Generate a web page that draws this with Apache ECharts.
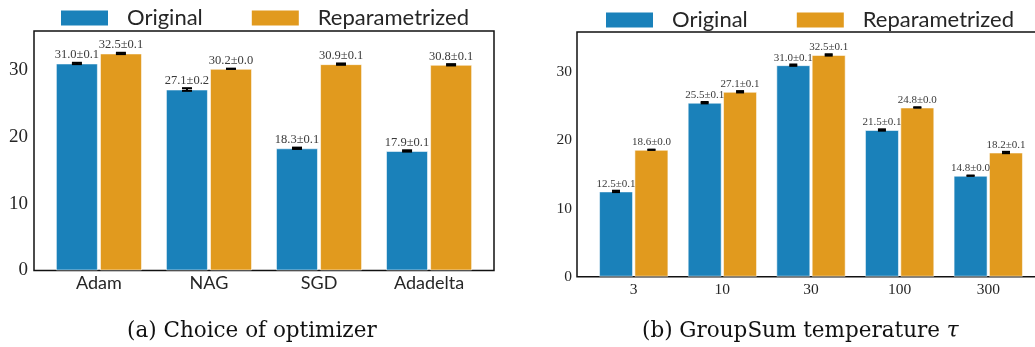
<!DOCTYPE html>
<html>
<head>
<meta charset="utf-8">
<script src="https://cdn.jsdelivr.net/npm/echarts@6/dist/echarts.min.js"></script>
<style>
  html, body { margin: 0; padding: 0; background: #fff; }
  #chart { width: 1035px; height: 347px; }
</style>
</head>
<body>
<div id="chart"></div>
<script>
// Panel (a): accuracy per optimizer
const optimizers = ['Adam', 'NAG', 'SGD', 'Adadelta'];
const optOriginal = [31.0, 27.1, 18.3, 17.9];
const optOriginalErr = [0.1, 0.2, 0.1, 0.1];
const optReparam = [32.5, 30.2, 30.9, 30.8];
const optReparamErr = [0.1, 0.0, 0.1, 0.1];

// Panel (b): accuracy per GroupSum temperature
const temperatures = ['3', '10', '30', '100', '300'];
const tempOriginal = [12.5, 25.5, 31.0, 21.5, 14.8];
const tempOriginalErr = [0.1, 0.1, 0.1, 0.1, 0.0];
const tempReparam = [18.6, 27.1, 32.5, 24.8, 18.2];
const tempReparamErr = [0.0, 0.1, 0.1, 0.0, 0.1];

const yTicks = [0, 10, 20, 30];

const BLUE = '#1a81ba';
const ORANGE = '#e19a1e';
const SERIF = '"Liberation Serif", "Times New Roman", serif';
const SANS = 'Lato, "Noto Sans", sans-serif';

const chart = echarts.init(document.getElementById('chart'));

function pairs(vals, errs) {
  return vals.map((v, i) => [i, v, errs[i]]);
}

function barSeries(name, vals, errs, color, axis, barWidth, labelSize) {
  return {
    name: name,
    type: 'bar',
    xAxisIndex: axis, yAxisIndex: axis,
    data: pairs(vals, errs),
    encode: { x: 0, y: 1 },
    barWidth: barWidth,
    barGap: axis === 0 ? '5%' : '4%',
    itemStyle: { color: color, borderColor: 'rgba(255,255,255,0.55)', borderWidth: 1 },
    label: {
      show: true, position: 'top', distance: 2,
      fontFamily: SERIF, fontSize: labelSize, color: '#3a3a3a',
      formatter: p => p.value[1].toFixed(1) + '±' + p.value[2].toFixed(1)
    },
    emphasis: { disabled: true },
    z: 2
  };
}

function errSeries(vals, errs, axis, offset, capHalf) {
  return {
    type: 'custom',
    xAxisIndex: axis, yAxisIndex: axis,
    data: pairs(vals, errs),
    encode: { x: 0, y: 1 },
    silent: true,
    z: 5,
    renderItem: (params, api) => {
      const x = api.value(0), v = api.value(1), e = api.value(2);
      const hi = api.coord([x, v + e]);
      const lo = api.coord([x, v - e]);
      const cx = hi[0] + offset;
      const st = { stroke: '#000', lineWidth: 2 };
      return {
        type: 'group',
        children: [
          { type: 'line', shape: { x1: cx, y1: hi[1], x2: cx, y2: lo[1] }, style: st },
          { type: 'line', shape: { x1: cx - capHalf, y1: hi[1], x2: cx + capHalf, y2: hi[1] }, style: st },
          { type: 'line', shape: { x1: cx - capHalf, y1: lo[1], x2: cx + capHalf, y2: lo[1] }, style: st }
        ]
      };
    }
  };
}

function catAxis(grid, names, min, max, font, size, margin) {
  return {
    type: 'value', gridIndex: grid, min: min, max: max,
    axisLine: { show: false }, axisTick: { show: false }, splitLine: { show: false },
    axisLabel: {
      customValues: names.map((_, i) => i),
      formatter: v => names[Math.round(v)],
      fontFamily: font, fontSize: size, color: '#262626', margin: margin
    }
  };
}

function valAxis(grid, size, margin) {
  return {
    type: 'value', gridIndex: grid, min: 0, max: 35.86,
    axisLine: { show: false }, axisTick: { show: false }, splitLine: { show: false },
    axisLabel: {
      customValues: yTicks,
      fontFamily: SERIF, fontSize: size, color: '#262626', margin: margin
    }
  };
}

const legendBase = {
  data: ['Original', 'Reparametrized'],
  icon: 'rect', itemWidth: 47, itemHeight: 15, itemGap: 49,
  itemStyle: { borderWidth: 0 },
  selectedMode: false,
  textStyle: { fontFamily: SANS, fontSize: 22, color: '#262626', padding: [0, 0, 0, 14] }
};

const gridBase = {
  show: true, borderColor: '#111', borderWidth: 1.5, backgroundColor: 'transparent',
  containLabel: false, outerBoundsMode: 'none'
};

chart.setOption({
  animation: false,
  backgroundColor: '#fff',
  grid: [
    Object.assign({}, gridBase, { left: 34, top: 31, width: 460, height: 239.5 }),
    Object.assign({}, gridBase, { left: 577, top: 32, width: 468, height: 244.7 })
  ],
  legend: [
    Object.assign({}, legendBase, { left: 56, top: 2 }),
    Object.assign({}, legendBase, { left: 601, top: 4 })
  ],
  xAxis: [
    catAxis(0, optimizers, -0.59, 3.59, SANS, 18, 4),
    catAxis(1, temperatures, -0.64, 4.64, SERIF, 15.5, 5)
  ],
  yAxis: [
    valAxis(0, 19, 6),
    valAxis(1, 15.5, 5)
  ],
  series: [
    barSeries('Original', optOriginal, optOriginalErr, BLUE, 0, 42, 12.5),
    barSeries('Reparametrized', optReparam, optReparamErr, ORANGE, 0, 42, 12.5),
    errSeries(optOriginal, optOriginalErr, 0, -22, 5),
    errSeries(optReparam, optReparamErr, 0, 22, 5),
    barSeries('Original', tempOriginal, tempOriginalErr, BLUE, 1, 34, 11),
    barSeries('Reparametrized', tempReparam, tempReparamErr, ORANGE, 1, 34, 11),
    errSeries(tempOriginal, tempOriginalErr, 1, -17.7, 4),
    errSeries(tempReparam, tempReparamErr, 1, 17.7, 4)
  ],
  graphic: [
    { type: 'text', left: 127, top: 320, style: { text: '(a) Choice of optimizer', font: '21.5px "DejaVu Serif", serif', fill: '#111' } },
    { type: 'text', left: 642, top: 320, style: {
        text: '(b) GroupSum temperature {t|τ}', font: '21.5px "DejaVu Serif", serif', fill: '#111',
        rich: { t: { fontStyle: 'italic', fontFamily: '"DejaVu Serif", serif', fontSize: 21.5 } }
    } }
  ]
});
</script>
</body>
</html>
